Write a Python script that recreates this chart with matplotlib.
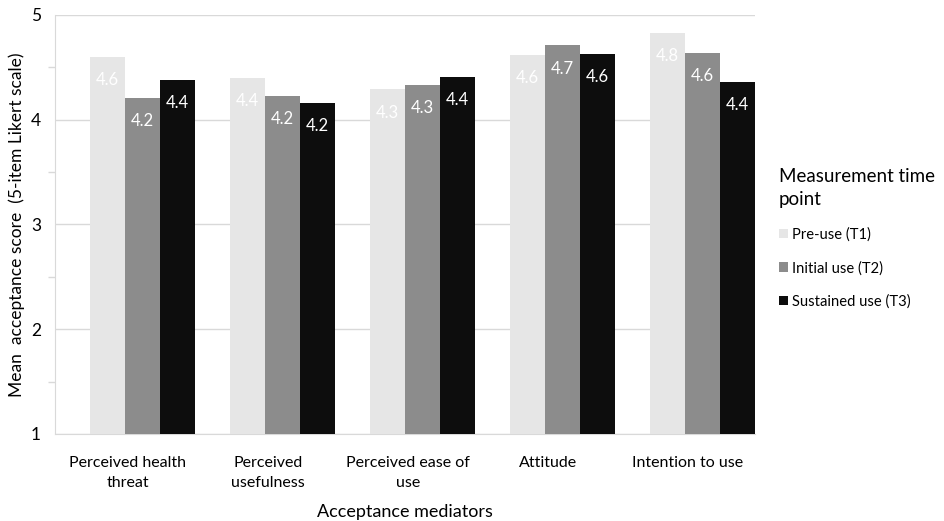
import numpy as np
import matplotlib.pyplot as plt
from matplotlib.ticker import MultipleLocator

plt.rcParams['font.family'] = ['Lato', 'DejaVu Sans']

mediators = ['Perceived health\nthreat', 'Perceived\nusefulness', 'Perceived ease of\nuse',
             'Attitude', 'Intention to use']
series_names = ['Pre-use (T1)', 'Initial use (T2)', 'Sustained use (T3)']
pre_use = [4.60, 4.40, 4.29, 4.62, 4.83]
initial_use = [4.21, 4.23, 4.33, 4.71, 4.64]
sustained_use = [4.38, 4.16, 4.41, 4.63, 4.36]
colors = ['#e6e6e6', '#8c8c8c', '#0d0d0d']

fig = plt.figure(figsize=(9.45, 5.21), dpi=100)
ax = fig.add_axes([0.0582, 0.167, 0.7407, 0.8045])

x = np.arange(len(mediators))
width = 0.25
shift = 0.127  # groups sit a bit right of the category labels
base = 1
for i, (vals, name, col) in enumerate(zip([pre_use, initial_use, sustained_use], series_names, colors)):
    pos = x + shift + (i - 1) * width
    heights = [v - base for v in vals]
    ax.bar(pos, heights, width, bottom=base, color=col, label=name, zorder=3)
    for p, v in zip(pos, vals):
        ax.annotate(f'{v:.1f}', (p, v), xytext=(0, -11), textcoords='offset points',
                    ha='center', va='top', color='white', fontsize=12, zorder=4)

ax.set_xlim(-0.5, len(mediators) - 0.5)
ax.set_ylim(1, 5)
ax.yaxis.set_major_locator(MultipleLocator(1))
ax.yaxis.set_minor_locator(MultipleLocator(0.5))
ax.grid(axis='y', which='major', color='#d9d9d9', linewidth=1, zorder=0)
ax.set_xticks(x + 0.02)
ax.set_xticklabels(mediators, fontsize=11.5, linespacing=1.55)
ax.tick_params(axis='x', length=0, pad=16)
ax.tick_params(axis='y', which='major', length=0, labelsize=12.5, pad=10)
ax.tick_params(axis='y', which='minor', length=5, color='#d9d9d9', width=1)
for s in ['top', 'right']:
    ax.spines[s].set_visible(False)
ax.spines['left'].set_color('#d9d9d9')
ax.spines['bottom'].set_color('#d9d9d9')

ax.set_ylabel('Mean  acceptance score  (5-item Likert scale)', fontsize=12.5, labelpad=4)
ax.set_xlabel('Acceptance mediators', fontsize=13, labelpad=10)

leg = fig.legend(loc='upper left', bbox_to_anchor=(0.81, 0.703), frameon=False,
                 title='Measurement time\npoint', fontsize=10.6, title_fontsize=13.5,
                 handlelength=0.6, handleheight=0.6, handletextpad=0.3, labelspacing=1.3)
leg.get_title().set_linespacing(1.45)
leg._legend_box.align = 'left'

fig.savefig('out.png', dpi=100)
